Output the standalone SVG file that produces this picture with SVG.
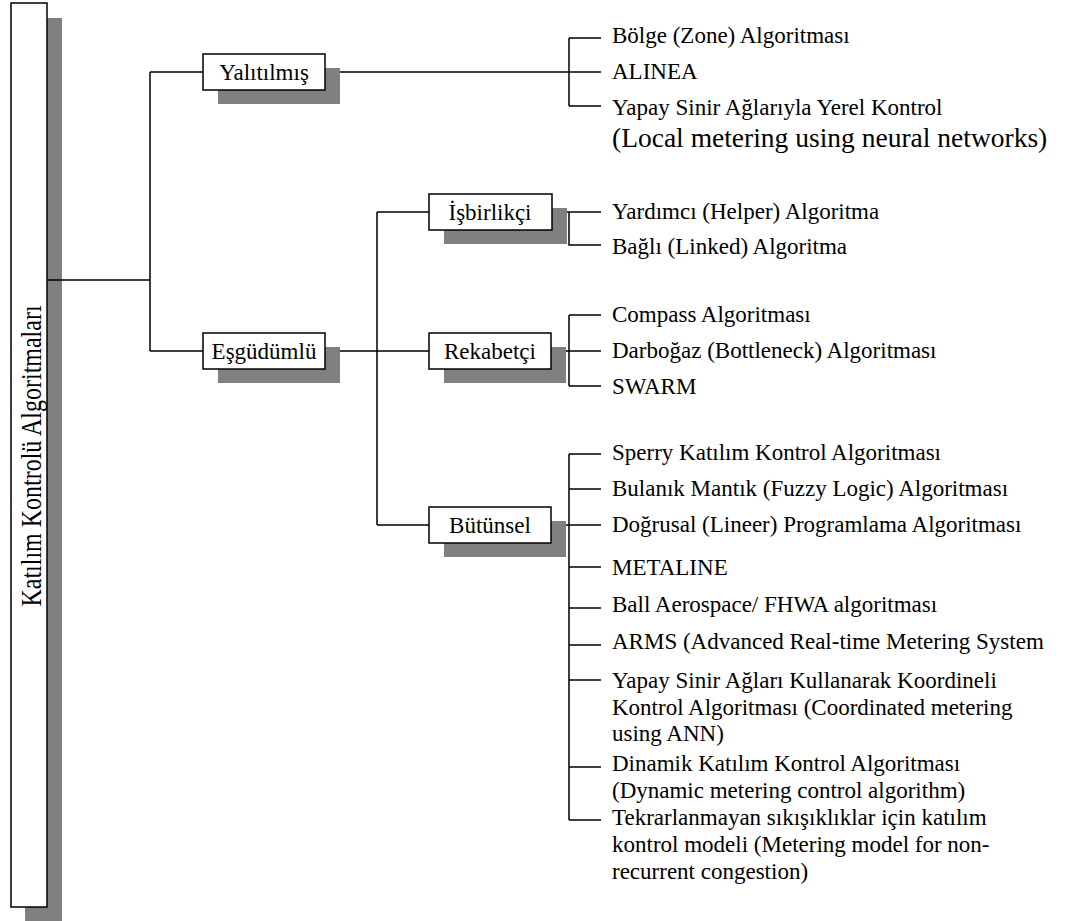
<svg xmlns="http://www.w3.org/2000/svg" width="1073" height="921" viewBox="0 0 1073 921">
<style>
.box{fill:#fff;stroke:#000;stroke-width:1.5}
.sh{fill:#808080}
.ln{fill:none;stroke:#000;stroke-width:1.5}
text{font-family:"Liberation Serif","Times New Roman",serif;font-size:23px;fill:#000}
.lbl{text-anchor:middle}
.big{font-size:27.5px}
.main{font-size:30px}
</style>
<rect width="1073" height="921" fill="#fff"/>
<g id="root">
<rect class="sh" x="25" y="18" width="37" height="903"/>
<rect class="box" x="11" y="3" width="36" height="904"/>
<text class="lbl main" transform="translate(41,456) rotate(-90) scale(0.8,1)" x="0" y="0">Katılım Kontrolü Algoritmaları</text>
</g>
<g id="connectors">
<path class="ln" d="M47,280 H150 M150,72 V351 M150,72 H203 M150,351 H203"/>
<path class="ln" d="M325,72 H601 M569,38 V106 M569,38 H601 M569,106 H601"/>
<path class="ln" d="M325,351 H429 M377,212 V525 M377,212 H429 M377,525 H429"/>
<path class="ln" d="M552,212 H601 M569,212 V245 H601"/>
<path class="ln" d="M551,351 H601 M569,315 V386 M569,315 H601 M569,386 H601"/>
<path class="ln" d="M551,525 H569 M569,454 V820 M569,454 H601 M569,489 H601 M569,525 H601 M569,567 H601 M569,608 H601 M569,645 H601 M569,680 H601 M569,767 H601 M569,820 H601"/>
</g>
<g id="n-yalitilmis">
<rect class="sh" x="218" y="68" width="122" height="36"/>
<rect class="box" x="203" y="54" width="122" height="36"/>
<text class="lbl" x="264" y="80">Yalıtılmış</text>
</g>
<g id="n-esgudumlu">
<rect class="sh" x="218" y="347" width="122" height="36"/>
<rect class="box" x="203" y="333" width="122" height="36"/>
<text class="lbl" x="264" y="359">Eşgüdümlü</text>
</g>
<g id="n-isbirlikci">
<rect class="sh" x="444" y="208" width="123" height="36"/>
<rect class="box" x="429" y="194" width="123" height="36"/>
<text class="lbl" x="490" y="220">İşbirlikçi</text>
</g>
<g id="n-rekabetci">
<rect class="sh" x="444" y="347" width="122" height="36"/>
<rect class="box" x="429" y="333" width="122" height="36"/>
<text class="lbl" x="490" y="359">Rekabetçi</text>
</g>
<g id="n-butunsel">
<rect class="sh" x="444" y="521" width="122" height="36"/>
<rect class="box" x="429" y="507" width="122" height="36"/>
<text class="lbl" x="490" y="533">Bütünsel</text>
</g>
<g id="leaves-yalitilmis">
<text x="612" y="43">Bölge (Zone) Algoritması</text>
<text x="612" y="79">ALINEA</text>
<text x="612" y="115">Yapay Sinir Ağlarıyla Yerel Kontrol</text>
<text class="big" x="612" y="147">(Local metering using neural networks)</text>
</g>
<g id="leaves-isbirlikci">
<text x="612" y="219">Yardımcı (Helper) Algoritma</text>
<text x="612" y="254">Bağlı (Linked) Algoritma</text>
</g>
<g id="leaves-rekabetci">
<text x="612" y="322">Compass Algoritması</text>
<text x="612" y="358">Darboğaz (Bottleneck) Algoritması</text>
<text x="612" y="394">SWARM</text>
</g>
<g id="leaves-butunsel">
<text x="612" y="460">Sperry Katılım Kontrol Algoritması</text>
<text x="612" y="496">Bulanık Mantık (Fuzzy Logic) Algoritması</text>
<text x="612" y="532">Doğrusal (Lineer) Programlama Algoritması</text>
<text x="612" y="575">METALINE</text>
<text x="612" y="612">Ball Aerospace/ FHWA algoritması</text>
<text x="612" y="649">ARMS (Advanced Real-time Metering System</text>
<text x="612" y="688">Yapay Sinir Ağları Kullanarak Koordineli</text>
<text x="612" y="715">Kontrol Algoritması (Coordinated metering</text>
<text x="612" y="741">using ANN)</text>
<text x="612" y="771">Dinamik Katılım Kontrol Algoritması</text>
<text x="612" y="798">(Dynamic metering control algorithm)</text>
<text x="612" y="825">Tekrarlanmayan sıkışıklıklar için katılım</text>
<text x="612" y="852">kontrol modeli (Metering model for non-</text>
<text x="612" y="879">recurrent congestion)</text>
</g>
</svg>
